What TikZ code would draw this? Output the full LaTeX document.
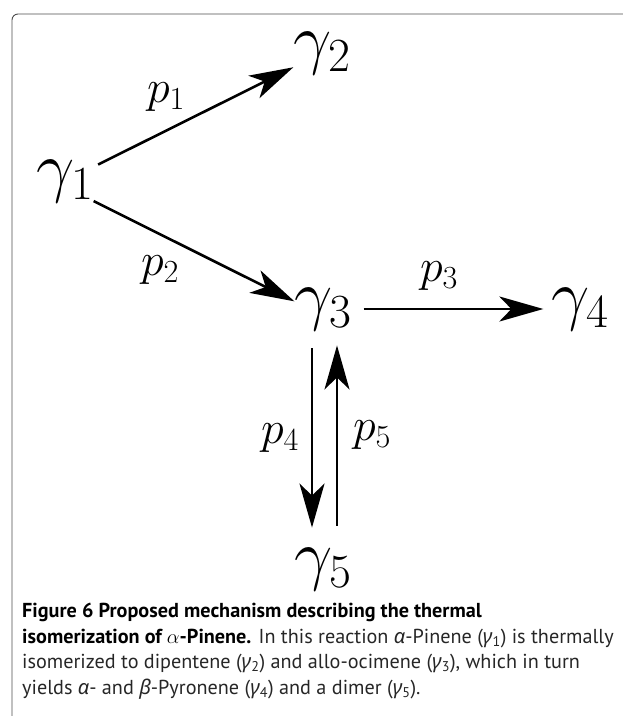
\RequirePackage{fix-cm}
\documentclass[tikz,border=0pt]{standalone}
\usepackage{amsmath}
\usepackage[no-math]{fontspec}
\usepackage{tikz}
\usetikzlibrary{arrows.meta, positioning, calc}
\setmainfont{PT Sans}
\newfontfamily\grk{Noto Sans}

\begin{document}
\begin{tikzpicture}[
        x=1pt, y=1pt,
        species/.style={font=\fontsize{68}{68}\selectfont, inner sep=0pt},
        rate/.style={font=\fontsize{46}{46}\selectfont, inner sep=0pt},
        reaction/.style={-{Stealth[length=44pt, width=25pt, inset=12pt]}, line width=2.6pt},
        frame/.style={draw=black!70, line width=0.9pt, rounded corners=6pt},
        caption/.style={anchor=north west, align=left, inner sep=0pt,
            font=\fontsize{20.2}{25.5}\selectfont, text=black!85}
    ]
        \useasboundingbox (0,0) rectangle (623,-716);
        \draw[frame] (12,-716) |- (623,-14);

        % Species
        \node[species] (g1) at (65,-181) {$\gamma_1$};
        \node[species, on grid, above right=128pt and 257pt of g1] (g2) {$\gamma_2$};
        \node[species, on grid, below right=128pt and 258pt of g1] (g3) {$\gamma_3$};
        \node[species, on grid, right=257pt of g3] (g4) {$\gamma_4$};
        \node[species, on grid, below=260pt of g3] (g5) {$\gamma_5$};

        % Reactions
        \draw[reaction, shorten <=5pt] (g1) -- (g2);
        \draw[reaction] (g1.-35) -- (g3.165);
        \draw[reaction, shorten <=12pt, shorten >=8pt] (g3) -- (g4);
        \draw[reaction, shorten <=18pt, shorten >=20pt] ([xshift=-11pt]g3.south) -- ([xshift=-11pt]g5.north);
        \draw[reaction, shorten <=22pt, shorten >=15pt] ([xshift=14pt]g5.north) -- ([xshift=14pt]g3.south);

        % Rates
        \node[rate] (p1) at (166,-97) {$p_1$};
        \node[rate] (p2) at (160,-270) {$p_2$};
        \node[rate] (p3) at (439,-276) {$p_3$};
        \node[rate] (p4) at (280,-438) {$p_4$};
        \node[rate] (p5) at (372,-435) {$p_5$};

        % Caption
        \node[caption] (cap) at (22,-603) {%
            \textbf{\color{black}Figure 6 Proposed mechanism describing the thermal}\\
            \textbf{\color{black}isomerization of $\alpha$-Pinene.} In this reaction {\grk\itshape α}-Pinene ({\grk\itshape γ}\textsubscript{1}) is thermally\\
            isomerized to dipentene ({\grk\itshape γ}\textsubscript{2}) and allo-ocimene ({\grk\itshape γ}\textsubscript{3}), which in turn\\
            yields {\grk\itshape α}- and {\grk\itshape β}-Pyronene ({\grk\itshape γ}\textsubscript{4}) and a dimer ({\grk\itshape γ}\textsubscript{5}).};
\end{tikzpicture}
\end{document}
